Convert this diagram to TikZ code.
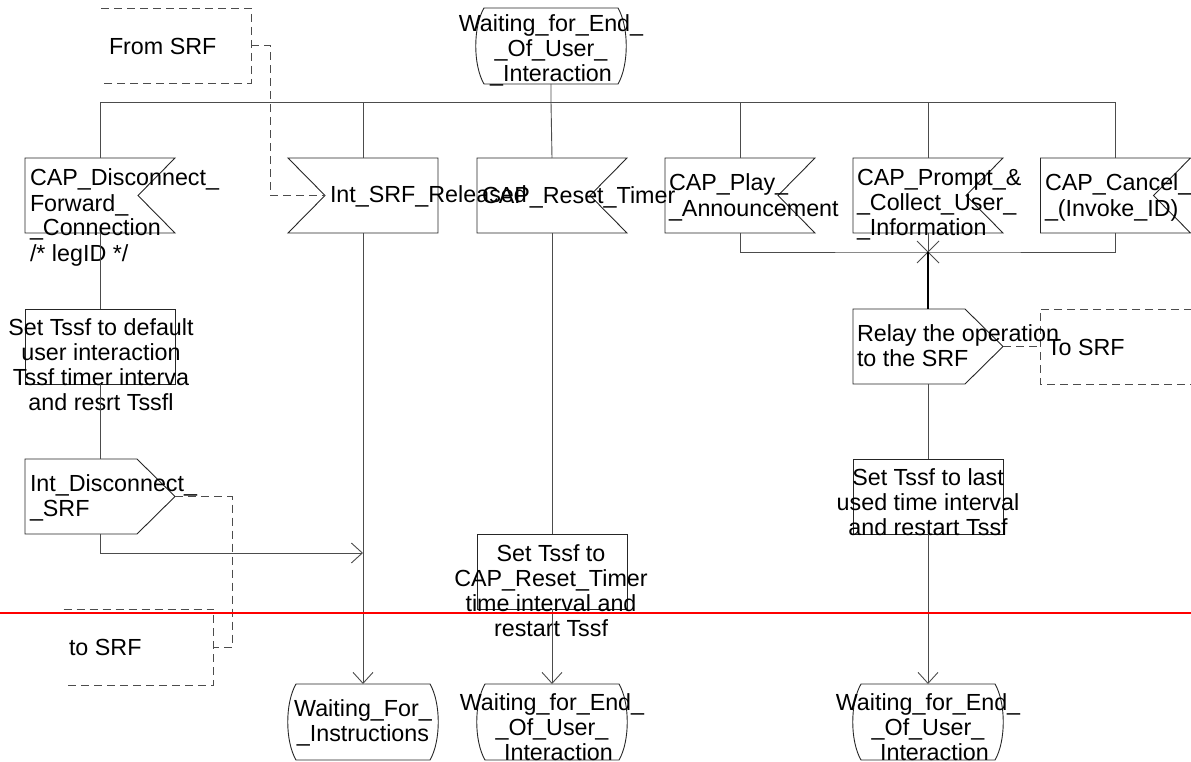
\documentclass[tikz,border=0pt]{standalone}
\usepackage{fontspec}
\setmainfont{Liberation Sans}
\usetikzlibrary{calc,arrows.meta}

\tikzset{
  outline/.style={line width=0.9pt, draw=black!85},
  wire/.style={line width=0.9pt, draw=black!70},
  heavywire/.style={line width=2pt, draw=black},
  dashwire/.style={line width=0.9pt, draw=black!70, dash pattern=on 8pt off 5pt},
  flow/.style={wire, -{Straight Barb[length=11pt,width=20pt]}},
  symbox/.style={rectangle, draw=none, minimum width=150pt, minimum height=75pt,
    inner sep=0pt, outer sep=0pt},
  taskbox/.style={symbox, draw=black!85, line width=0.9pt},
  % input symbol, notch on the right side
  inputR/.style={symbox, append after command={\pgfextra{\draw[outline]
    (\tikzlastnode.north west) -- (\tikzlastnode.north east)
    -- ($(\tikzlastnode.east)+(-37,0)$) -- (\tikzlastnode.south east)
    -- (\tikzlastnode.south west) -- cycle;}}},
  % input symbol, notch on the left side
  inputL/.style={symbox, append after command={\pgfextra{\draw[outline]
    (\tikzlastnode.north west) -- (\tikzlastnode.north east)
    -- (\tikzlastnode.south east) -- (\tikzlastnode.south west)
    -- ($(\tikzlastnode.west)+(37,0)$) -- cycle;}}},
  % output symbol, pointing right
  outputR/.style={symbox, append after command={\pgfextra{\draw[outline]
    (\tikzlastnode.north west) -- ($(\tikzlastnode.north east)+(-38,0)$)
    -- (\tikzlastnode.east) -- ($(\tikzlastnode.south east)+(-38,0)$)
    -- (\tikzlastnode.south west) -- cycle;}}},
  % state symbol with bulging sides
  statebox/.style={symbox, minimum height=76pt, append after command={\pgfextra{\draw[outline]
    ($(\tikzlastnode.north west)+(8,0)$) -- ($(\tikzlastnode.north east)+(-8,0)$)
    .. controls ($(\tikzlastnode.north east)+(3,19)$) and ($(\tikzlastnode.south east)+(3,-19)$)
    .. ($(\tikzlastnode.south east)+(-8,0)$)
    -- ($(\tikzlastnode.south west)+(8,0)$)
    .. controls ($(\tikzlastnode.south west)+(-3,-19)$) and ($(\tikzlastnode.north west)+(-3,19)$)
    .. ($(\tikzlastnode.north west)+(8,0)$) -- cycle;}}},
  % comment brackets, open on the left or on the right
  commentL/.style={symbox, append after command={\pgfextra{\draw[dashwire]
    (\tikzlastnode.north west) -- (\tikzlastnode.north east)
    -- (\tikzlastnode.south east) -- (\tikzlastnode.south west);}}},
  commentR/.style={symbox, append after command={\pgfextra{\draw[dashwire]
    (\tikzlastnode.north east) -- (\tikzlastnode.north west)
    -- (\tikzlastnode.south west) -- (\tikzlastnode.south east);}}},
  % multi-line labels are placed by the baseline of their last line
  lbl/.style={font=\fontsize{23.3}{25}\selectfont, inner sep=0pt, outer sep=0pt, text=black},
  lblL/.style={lbl, align=left, anchor=base west},
  lblC/.style={lbl, align=center, anchor=base},
}

\begin{document}
\begin{tikzpicture}[x=1pt,y=-1pt]
\useasboundingbox (0,0) rectangle (1191,762);

% ---- symbols ----
\node[statebox] (st0) at (551,46) {};
\node[inputR] (disc) at (100,195.5) {};
\node[inputL] (srfrel) at (363,195.5) {};
\node[inputR] (reset) at (552,195.5) {};
\node[inputR] (play) at (740,195.5) {};
\node[inputR] (prompt) at (928,195.5) {};
\node[inputR] (cancel) at (1115.5,195.5) {};
\node[commentL] (fromsrf) at (176,45.5) {};

\node[taskbox] (task1) at (100,346.5) {};
\node[outputR] (out1) at (100,496.5) {};
\node[commentL, minimum height=76pt] (tosrf1) at (138.5,647) {};

\node[outputR] (relay) at (928,346.5) {};
\node[commentR, minimum width=152pt] (tosrf2) at (1116,346.5) {};
\node[taskbox] (task3) at (928,496.5) {};

\node[taskbox] (task2) at (552,571.5) {};

\node[statebox] (st1) at (363,722) {};
\node[statebox] (st2) at (552,722) {};
\node[statebox] (st3) at (928,722) {};

% ---- texts ----
\node[lblC] (t-st0) at (551,81.5) {Waiting\_for\_End\_\\\_Of\_User\_\\\_Interaction};
\node[lblL] (t-disc) at (30,261) {CAP\_Disconnect\_\\Forward\_\\\_Connection\\/* legID */};
\node[lblL] (t-srfrel) at (330,203) {Int\_SRF\_Released};
\node[lblL] (t-reset) at (482,204) {CAP\_Reset\_Timer};
\node[lblL] (t-play) at (669,216) {CAP\_Play\_\\\_Announcement};
\node[lblL] (t-prompt) at (857,236) {CAP\_Prompt\_\&\\\_Collect\_User\_\\\_Information};
\node[lblL] (t-cancel) at (1045,216) {CAP\_Cancel\_\\\_(Invoke\_ID)};
\node[lblL] (t-fromsrf) at (109,55) {From SRF};

\node[lblC] (t-task1) at (101,410) {Set Tssf to default\\user interaction\\Tssf timer interva\\and resrt Tssfl};
\node[lblL] (t-out1) at (30,516) {Int\_Disconnect\_\\\_SRF};
\node[lblL] (t-tosrf1) at (69,655) {to SRF};

\node[lblL] (t-relay) at (857,366) {Relay the operation\\to the SRF};
\node[lblL] (t-tosrf2) at (1047,355) {To SRF};
\node[lblC] (t-task3) at (928,535) {Set Tssf to last\\used time interval\\and restart Tssf};
\node[lblC] (t-task2) at (551,636) {Set Tssf to\\CAP\_Reset\_Timer\\time interval and\\restart Tssf};

\node[lblC] (t-st1) at (363,741) {Waiting\_For\_\\\_Instructions};
\node[lblC] (t-st2) at (552,760) {Waiting\_for\_End\_\\\_Of\_User\_\\\_Interaction};
\node[lblC] (t-st3) at (928,760) {Waiting\_for\_End\_\\\_Of\_User\_\\\_Interaction};

% ---- connectors ----
\coordinate (bus) at (0,102);
\draw[wire] (st0.south) -- (st0.south |- bus) -- (reset.north);
\draw[wire] (disc.north) |- (bus -| cancel.north) -- (cancel.north);
\draw[wire] (srfrel.north) -- (srfrel.north |- bus);
\draw[wire] (play.north) -- (play.north |- bus);
\draw[wire] (prompt.north) -- (prompt.north |- bus);

\draw[dashwire] (fromsrf.east) -- ++(19,0) |- ($(srfrel.west)+(37,0)$);

% merge of the three signals feeding the relay
\coordinate (merge) at (928,252);
\draw[wire] (play.south) |- (merge) -| (cancel.south);
\draw[wire] (prompt.south) -- (merge);
\draw[wire] ($(merge)+(-11,-11)$) -- ($(merge)+(11,11)$)
            ($(merge)+(-11,11)$) -- ($(merge)+(11,-11)$);
\draw[heavywire] (merge) -- (relay.north);
\draw[dashwire] (relay.east) -- (tosrf2.west);
\draw[wire] (relay.south) -- (task3.north);
\draw[flow] (task3.south) -- (st3.north);

% left branch
\draw[wire] (disc.south) -- (task1.north);
\draw[wire] (task1.south) -- (out1.north);
\draw[dashwire] (out1.east) -- ++(57,0) |- (tosrf1.east);
\path (srfrel.south) ++(0,320) coordinate (join);
\draw[flow] (out1.south) |- (join);
\draw[flow] (srfrel.south) -- (st1.north);

% reset branch
\draw[wire] (reset.south) -- (task2.north);
\draw[flow] (task2.south) -- (st2.north);

% horizontal rule across the page
\draw[red, line width=2pt] (0,613) -- (1191,613);
\end{tikzpicture}
\end{document}
